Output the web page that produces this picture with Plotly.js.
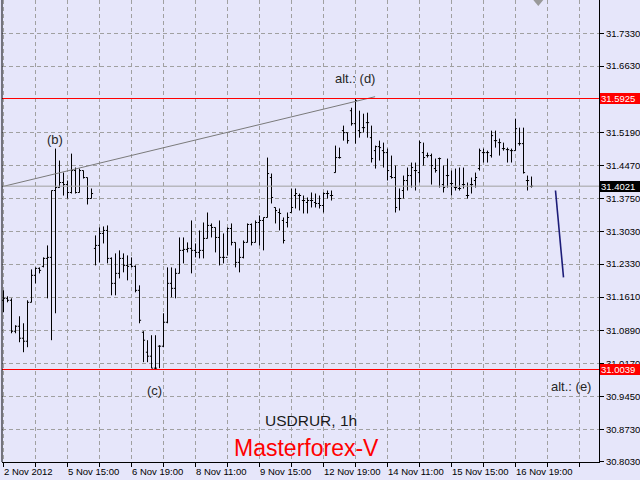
<!DOCTYPE html>
<html>
<head>
<meta charset="utf-8">
<script src="https://cdn.plot.ly/plotly-3.0.1.min.js"></script>
<style>
  html, body { margin: 0; padding: 0; background: #e6e6fa; }
  #chart { width: 640px; height: 480px; }
</style>
</head>
<body>
<div id="chart"></div>
<script>
// ---- DATA (USDRUR, 1h bars) ----
const openPrices = [
  31.1542, 31.1585, 31.1542, 31.0870, 31.0978, 31.0718, 31.0653, 31.1498, 31.2084, 31.2235,
  31.2279, 31.2452, 31.2474, 31.3926, 31.3991, 31.4100, 31.4056, 31.3883, 31.4360, 31.3883,
  31.4360, 31.4208, 31.3753, 31.2669, 31.2734, 31.2994, 31.3059, 31.2452, 31.1910, 31.2127,
  31.2452, 31.2300, 31.2322, 31.2279, 31.1758, 31.0848, 31.0414, 31.0328, 31.0068, 31.0545,
  31.0545, 31.1065, 31.1910, 31.1802, 31.2127, 31.2626, 31.2647, 31.2669, 31.2626, 31.2582,
  31.2626, 31.2886, 31.3168, 31.3124, 31.2907, 31.2474, 31.2474, 31.3102, 31.2799, 31.2365,
  31.2474, 31.2799, 31.3189, 31.2799, 31.3232, 31.3276, 31.3341, 31.4208, 31.3558, 31.3449,
  31.3276, 31.3232, 31.3449, 31.3818, 31.3818, 31.3709, 31.3666, 31.3709, 31.3666, 31.3645,
  31.3601, 31.3861, 31.3818, 31.4316, 31.4642, 31.5227, 31.5184, 31.5660, 31.5379, 31.5227,
  31.5292, 31.5401, 31.5075, 31.4793, 31.4880, 31.4793, 31.4750, 31.4230, 31.4208, 31.3753,
  31.3926, 31.4143, 31.4251, 31.4360, 31.4316, 31.4750, 31.4685, 31.4685, 31.4403, 31.4620,
  31.4056, 31.4251, 31.4078, 31.3991, 31.3970, 31.4056, 31.3818, 31.4056, 31.4143, 31.4403,
  31.4750, 31.4750, 31.4685, 31.5010, 31.4967, 31.4837, 31.4815, 31.4793, 31.4793, 31.4945,
  31.4945, 31.4143, 31.4013
];
const highPrices = [
  31.1758, 31.1628, 31.1585, 31.1000, 31.1195, 31.1043, 31.1542, 31.2214, 31.2257, 31.2257,
  31.2474, 31.2734, 31.3926, 31.4837, 31.4577, 31.4316, 31.4143, 31.4728, 31.4425, 31.4403,
  31.4360, 31.4208, 31.3970, 31.2951, 31.3124, 31.3146, 31.3168, 31.2474, 31.2561, 31.2626,
  31.2561, 31.2517, 31.2474, 31.2300, 31.1867, 31.0870, 31.0675, 31.0783, 31.0783, 31.0567,
  31.1260, 31.2257, 31.2257, 31.2235, 31.2907, 31.2907, 31.2799, 31.3276, 31.2777, 31.3059,
  31.3232, 31.3449, 31.3211, 31.3124, 31.3276, 31.2994, 31.3124, 31.3211, 31.2799, 31.2669,
  31.2842, 31.3211, 31.3211, 31.3276, 31.3384, 31.3341, 31.4642, 31.4295, 31.3558, 31.3536,
  31.3341, 31.3449, 31.3970, 31.3970, 31.3861, 31.3818, 31.3775, 31.3883, 31.3861, 31.3818,
  31.3883, 31.3926, 31.3926, 31.4902, 31.4858, 31.5336, 31.5184, 31.5725, 31.5925, 31.5660,
  31.5595, 31.5617, 31.5336, 31.4902, 31.5010, 31.4967, 31.4837, 31.4685, 31.4468, 31.3970,
  31.4251, 31.4425, 31.4533, 31.4533, 31.5010, 31.4967, 31.4750, 31.4728, 31.4620, 31.4642,
  31.4468, 31.4620, 31.4360, 31.4403, 31.4425, 31.4425, 31.4100, 31.4208, 31.4316, 31.4837,
  31.4837, 31.4793, 31.5227, 31.5227, 31.5054, 31.4967, 31.4858, 31.4837, 31.5487, 31.5292,
  31.5292, 31.4251, 31.4230
];
const lowPrices = [
  31.1282, 31.1498, 31.0826, 31.0826, 31.0631, 31.0414, 31.0523, 31.1498, 31.1910, 31.2127,
  31.2257, 31.1585, 31.0675, 31.1260, 31.3991, 31.3817, 31.3753, 31.3861, 31.3861, 31.3883,
  31.4186, 31.3623, 31.3753, 31.2300, 31.2365, 31.2777, 31.2344, 31.1650, 31.1650, 31.2018,
  31.2149, 31.1975, 31.2257, 31.1715, 31.1043, 31.0198, 31.0198, 31.0068, 31.0039, 31.0068,
  31.0523, 31.1043, 31.1607, 31.1585, 31.2127, 31.2344, 31.2582, 31.2127, 31.2474, 31.2452,
  31.2452, 31.2886, 31.2907, 31.2582, 31.2300, 31.2344, 31.2517, 31.2734, 31.2257, 31.2149,
  31.2452, 31.2799, 31.2734, 31.2799, 31.2734, 31.2626, 31.3341, 31.3645, 31.3211, 31.3059,
  31.2777, 31.3124, 31.3449, 31.3536, 31.3493, 31.3428, 31.3428, 31.3558, 31.3558, 31.3536,
  31.3449, 31.3753, 31.3709, 31.4316, 31.4620, 31.5010, 31.4945, 31.5336, 31.4945, 31.5075,
  31.5184, 31.5075, 31.4534, 31.4403, 31.4577, 31.4425, 31.4143, 31.4186, 31.3449, 31.3493,
  31.3753, 31.3926, 31.3991, 31.3926, 31.4100, 31.4468, 31.4642, 31.4056, 31.4316, 31.3991,
  31.3883, 31.3991, 31.3818, 31.3926, 31.3926, 31.3970, 31.3753, 31.3861, 31.3991, 31.4360,
  31.4534, 31.4534, 31.4642, 31.4858, 31.4685, 31.4793, 31.4534, 31.4534, 31.4793, 31.4902,
  31.4295, 31.3926, 31.3991
];
const closePrices = [
  31.1585, 31.1542, 31.0870, 31.0978, 31.0718, 31.0653, 31.1498, 31.2084, 31.2235, 31.2192,
  31.2452, 31.2474, 31.3926, 31.3991, 31.4100, 31.4056, 31.3883, 31.4360, 31.3883, 31.4360,
  31.4208, 31.3753, 31.3861, 31.2734, 31.2994, 31.3059, 31.2452, 31.1910, 31.2127, 31.2452,
  31.2300, 31.2279, 31.2279, 31.1758, 31.1108, 31.0675, 31.0328, 31.0068, 31.0068, 31.0545,
  31.1065, 31.1910, 31.1802, 31.2127, 31.2626, 31.2647, 31.2669, 31.2626, 31.2582, 31.2626,
  31.2886, 31.3168, 31.3124, 31.2907, 31.2474, 31.2474, 31.3102, 31.2799, 31.2365, 31.2474,
  31.2799, 31.3189, 31.2799, 31.3232, 31.3276, 31.3341, 31.4295, 31.3775, 31.3493, 31.3428,
  31.2842, 31.3341, 31.3558, 31.3861, 31.3818, 31.3709, 31.3709, 31.3709, 31.3645, 31.3601,
  31.3861, 31.3861, 31.3818, 31.4642, 31.4642, 31.5184, 31.5010, 31.5379, 31.5877, 31.5184,
  31.5292, 31.5401, 31.4620, 31.4880, 31.4858, 31.4750, 31.4360, 31.4208, 31.3558, 31.3753,
  31.4143, 31.4251, 31.4425, 31.4360, 31.4967, 31.4642, 31.4685, 31.4468, 31.4360, 31.4620,
  31.3991, 31.4251, 31.4078, 31.3991, 31.3970, 31.4056, 31.3818, 31.4056, 31.4208, 31.4793,
  31.4750, 31.4750, 31.5119, 31.5010, 31.4967, 31.4837, 31.4815, 31.4793, 31.5270, 31.4945,
  31.4316, 31.4143, 31.4021
];

// time labels, one every 16 bars
const timeLabels = ['2 Nov 2012', '5 Nov 15:00', '6 Nov 19:00', '8 Nov 11:00', '9 Nov 15:00',
                    '12 Nov 19:00', '14 Nov 11:00', '15 Nov 15:00', '16 Nov 19:00'];
const barsPerLabel = 16;
const barsPerGrid = 8;

// price scale tick values shown on the right
const priceTicks = [31.733, 31.663, 31.519, 31.447, 31.375, 31.303, 31.233, 31.161,
                    31.089, 31.017, 30.945, 30.873, 30.803];

// levels
const resistanceLevel = 31.5925;   // alt.: (d)
const supportLevel = 31.0039;      // alt.: (e)
const bidLevel = 31.4021;          // last price

// trend line (b) -> (d)
const trendX = [-0.4, 92.9];
const trendY = [31.4009, 31.5964];

// projected move
const projX = [138, 140];
const projY = [31.3927, 31.2041];

const waveB = 13, waveC = 38, waveD = 88;

// ---- BUILD ----
const idx = openPrices.map((_, i) => i);
const font = 'Liberation Sans, Arial, sans-serif';

const gridVals = [];
for (let k = 0; k <= 148; k += barsPerGrid) gridVals.push(k);

const traces = [
  {
    type: 'ohlc',
    x: idx, open: openPrices, high: highPrices, low: lowPrices, close: closePrices,
    increasing: { line: { color: '#000000', width: 1 } },
    decreasing: { line: { color: '#000000', width: 1 } },
    tickwidth: 0.4,
    hoverinfo: 'skip',
    showlegend: false
  },
  {
    type: 'scatter', mode: 'lines', x: trendX, y: trendY,
    line: { color: '#7a7a7a', width: 1 }, hoverinfo: 'skip', showlegend: false
  },
  {
    type: 'scatter', mode: 'lines', x: projX, y: projY,
    line: { color: '#1c1c78', width: 1.6 }, hoverinfo: 'skip', showlegend: false
  }
];

const annotations = [];
timeLabels.forEach((t, i) => {
  annotations.push({
    x: i * barsPerLabel, xref: 'x', y: 0, yref: 'paper',
    xanchor: 'left', yanchor: 'top', yshift: -3, xshift: -1,
    text: t, showarrow: false, borderpad: 0,
    font: { family: font, size: 9.5, color: '#000' }
  });
});

function levelLabel(val, bg) {
  return {
    x: 1, xref: 'paper', y: val, yref: 'y',
    xanchor: 'left', yanchor: 'middle', xshift: 1,
    text: val.toFixed(4), showarrow: false,
    bgcolor: bg, borderpad: 0, borderwidth: 1, bordercolor: bg,
    width: 38, height: 9, align: 'left',
    font: { family: font, size: 9.5, color: '#ffffff' }
  };
}
annotations.push(levelLabel(resistanceLevel, '#ff0000'));
annotations.push(levelLabel(supportLevel, '#ff0000'));
annotations.push(levelLabel(bidLevel, '#000000'));

const waveFont = { family: font, size: 13, color: '#262626' };
annotations.push({ x: waveB, y: highPrices[waveB], text: '(b)', showarrow: false,
  yanchor: 'middle', yshift: 9, xshift: -1, font: waveFont });
annotations.push({ x: waveD, y: highPrices[waveD], text: 'alt.: (d)', showarrow: false,
  yanchor: 'middle', yshift: 20, xshift: -1, font: waveFont });
annotations.push({ x: waveC, y: lowPrices[waveC], text: '(c)', showarrow: false,
  yanchor: 'middle', yshift: -21, xshift: -1, font: waveFont });
annotations.push({ x: projX[1], y: supportLevel, text: 'alt.: (e)', showarrow: false,
  yanchor: 'middle', yshift: -17, xshift: 7, font: waveFont });

annotations.push({ x: 0.5176, xref: 'paper', y: 0.0889, yref: 'paper',
  text: 'USDRUR, 1h', showarrow: false, xanchor: 'center', yanchor: 'middle',
  font: { family: font, size: 15.5, color: '#1a1a1a' } });
annotations.push({ x: 0.5101, xref: 'paper', y: 0.0304, yref: 'paper',
  text: 'Masterforex-V', showarrow: false, xanchor: 'center', yanchor: 'middle',
  font: { family: font, size: 23, color: '#ff0000' } });

const shapes = [
  { type: 'line', xref: 'paper', yref: 'y', x0: 0, x1: 1, y0: bidLevel, y1: bidLevel,
    line: { color: '#a0a0a0', width: 1 } },
  { type: 'line', xref: 'paper', yref: 'y', x0: 0, x1: 1, y0: resistanceLevel, y1: resistanceLevel,
    line: { color: '#ff0000', width: 1 } },
  { type: 'line', xref: 'paper', yref: 'y', x0: 0, x1: 1, y0: supportLevel, y1: supportLevel,
    line: { color: '#ff0000', width: 1 } },
  { type: 'line', xref: 'paper', yref: 'paper', x0: 0, x1: 0, y0: 0, y1: 1,
    line: { color: '#000000', width: 1 } },
  { type: 'path', xref: 'paper', yref: 'paper', xsizemode: 'pixel', ysizemode: 'pixel',
    xanchor: 0.8983, yanchor: 1, path: 'M-5,0 L5,0 L0,-6 Z',
    fillcolor: '#9a9a9a', line: { width: 0 } }
];

const layout = {
  width: 640, height: 480,
  margin: { l: 2, r: 41, t: 0, b: 18, pad: 0 },
  paper_bgcolor: '#e6e6fa', plot_bgcolor: '#e6e6fa',
  showlegend: false,
  xaxis: {
    range: [-0.375, 148.875], autorange: false,
    rangeslider: { visible: false },
    tickvals: gridVals, ticktext: gridVals.map(() => ''),
    ticks: 'outside', ticklen: 4, tickcolor: '#000', tickwidth: 1,
    showgrid: true, gridcolor: '#a0a0a0', griddash: '4px,3px', gridwidth: 1,
    showline: true, linecolor: '#000', linewidth: 1,
    zeroline: false, fixedrange: true
  },
  yaxis: {
    side: 'right',
    range: [30.80298, 31.80644], autorange: false,
    tickvals: priceTicks, ticktext: priceTicks.map(v => v.toFixed(4)),
    ticks: 'outside', ticklen: 4, tickcolor: '#000', tickwidth: 1,
    tickfont: { family: font, size: 9.5, color: '#000' },
    showgrid: true, gridcolor: '#a0a0a0', griddash: '4px,3px', gridwidth: 1,
    showline: true, linecolor: '#000', linewidth: 1,
    zeroline: false, fixedrange: true
  },
  annotations: annotations,
  shapes: shapes
};

Plotly.newPlot('chart', traces, layout, { staticPlot: true, displayModeBar: false });
</script>
</body>
</html>
